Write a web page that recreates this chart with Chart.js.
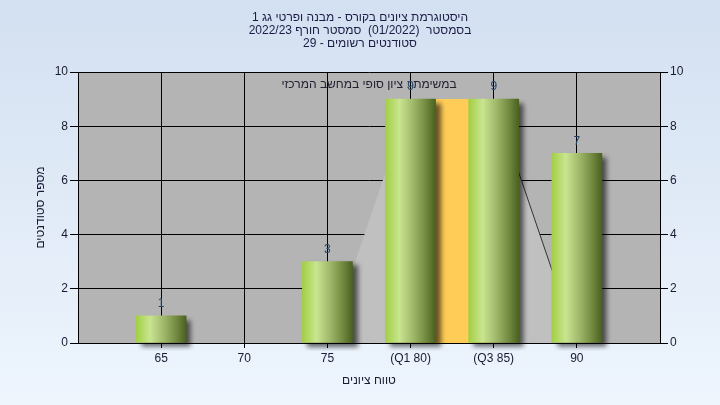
<!DOCTYPE html>
<html><head><meta charset="utf-8">
<script src="https://cdn.jsdelivr.net/npm/chart.js@4.4.0/dist/chart.umd.min.js"></script>
<style>html,body{margin:0;padding:0;overflow:hidden;background:#e6eef8;}</style>
</head><body>
<canvas id="c" width="720" height="405" dir="rtl"></canvas>
<script>
// ---- data ----
const titleLines = ['היסטוגרמת ציונים בקורס - מבנה ופרטי גג 1', 'בסמסטר  (01/2022)  סמסטר חורף 2022/23', 'סטודנטים רשומים - 29'];
const xTitle = 'טווח ציונים';
const yTitle = 'מספר סטודנטים';
const noteText = 'במשימת : ציון סופי במחשב המרכזי';
const grades = [65, 70, 75, 80, 85, 90];
const tickLabels = ['65', '70', '75', '(Q1 80)', '(Q3 85)', '90'];
const counts = [1, 0, 3, 9, 9, 7];
const iqrX = [80, 85];
const iqrY = [9, 9];
const spreadX = [75, 80, 85, 90];
const spreadY = [0, 9, 9, 0];
const xMin = 60, xMax = 95;
const yMin = 0, yMax = 10, yStep = 2;

const FONT = "'Liberation Sans', Arial, sans-serif";
const TXT = '#1a1a34';

const bgPlugin = {
  id: 'bg',
  beforeDraw(chart) {
    const {ctx, width, height, chartArea: a} = chart;
    ctx.save();
    const g = ctx.createLinearGradient(0, 0, 0, height);
    g.addColorStop(0, '#d3e0f1');
    g.addColorStop(1, '#eef5fd');
    ctx.fillStyle = g;
    ctx.fillRect(0, 0, width, height);
    ctx.fillStyle = '#b4b4b4';
    ctx.fillRect(a.left, a.top, a.right - a.left, a.bottom - a.top);
    ctx.restore();
  }
};

const shadowPlugin = {
  id: 'barShadow',
  beforeDatasetDraw(chart, args) {
    if (chart.data.datasets[args.index].type !== 'bar') return;
    const ctx = chart.ctx;
    ctx.save();
    ctx.shadowColor = 'rgba(0,0,0,0.6)';
    ctx.shadowBlur = 5;
    ctx.shadowOffsetX = 5;
    ctx.shadowOffsetY = 4;
  },
  afterDatasetDraw(chart, args) {
    if (chart.data.datasets[args.index].type !== 'bar') return;
    chart.ctx.restore();
  }
};

const labelPlugin = {
  id: 'labels',
  afterDatasetsDraw(chart) {
    const {ctx, scales: {x, y}, chartArea: a} = chart;
    ctx.save();
    ctx.font = '12px ' + FONT;
    ctx.textAlign = 'center';
    ctx.textBaseline = 'middle';
    ctx.fillStyle = '#222233';
    ctx.fillText(noteText, (a.left + a.right) / 2, a.top + 13);
    ctx.fillStyle = '#24466c';
    grades.forEach((g, i) => {
      if (counts[i] > 0) ctx.fillText(String(counts[i]), x.getPixelForValue(g), y.getPixelForValue(counts[i]) - 12);
    });
    ctx.restore();
  }
};

function barGradient(c) {
  const chart = c.chart;
  const xs = chart.scales && chart.scales.x;
  if (!xs || c.dataIndex === undefined) return '#a0c850';
  if (!counts[c.dataIndex]) return 'rgba(0,0,0,0)';
  const cx = xs.getPixelForValue(grades[c.dataIndex]);
  if (!isFinite(cx)) return '#a0c850';
  const g = chart.ctx.createLinearGradient(cx - 25, 0, cx + 25, 0);
  g.addColorStop(0, '#a2cf44');
  g.addColorStop(0.28, '#c9e590');
  g.addColorStop(0.55, '#9fb86a');
  g.addColorStop(0.8, '#738b40');
  g.addColorStop(1, '#4a6121');
  return g;
}

const chart = new Chart(document.getElementById('c'), {
  type: 'bar',
  data: {
    datasets: [
      {
        type: 'bar',
        data: grades.map((g, i) => ({x: g, y: counts[i]})),
        backgroundColor: barGradient,
        borderWidth: 0,
        barThickness: 50,
        order: 0,
        clip: 8
      },
      {
        type: 'line',
        data: iqrX.map((v, i) => ({x: v, y: iqrY[i]})),
        backgroundColor: '#ffcc57',
        borderWidth: 0,
        pointRadius: 0,
        fill: 'origin',
        order: 1
      },
      {
        type: 'line',
        data: spreadX.map((v, i) => ({x: v, y: spreadY[i]})),
        backgroundColor: '#c0c0c0',
        borderWidth: 1,
        borderColor: '#333333',
        segment: { borderColor: s => s.p0DataIndex === 2 ? '#333333' : 'rgba(0,0,0,0)' },
        pointRadius: 0,
        tension: 0,
        fill: 'origin',
        order: 2
      }
    ]
  },
  options: {
    responsive: false,
    animation: false,
    devicePixelRatio: 1,
    layout: {padding: 0},
    plugins: {
      legend: {display: false},
      tooltip: {enabled: false},
      title: {
        display: true,
        text: titleLines,
        color: '#1c1c44',
        font: {family: FONT, size: 12, weight: 'normal', lineHeight: 13 / 12},
        padding: {top: 11.5, bottom: 21.5}
      }
    },
    scales: {
      x: {
        type: 'linear',
        min: xMin, max: xMax,
        offset: false,
        afterBuildTicks(s) { s.ticks = grades.map(v => ({value: v})); },
        afterFit(s) { s.height = 62; },
        grid: {color: '#000', offset: false, tickLength: 5, lineWidth: 1},
        border: {color: '#000', z: 1},
        ticks: {
          autoSkip: false, maxRotation: 0, padding: 3,
          color: TXT, font: {family: FONT, size: 12},
          callback: v => { const i = grades.indexOf(v); return i >= 0 ? tickLabels[i] : ''; }
        },
        title: {display: true, text: xTitle, color: TXT, font: {family: FONT, size: 12}, padding: {top: 0, bottom: 17}}
      },
      y: {
        type: 'linear', position: 'left',
        min: yMin, max: yMax,
        afterFit(s) { s.width = 78; },
        grid: {color: '#000', tickLength: 8, lineWidth: 1},
        border: {color: '#000'},
        ticks: {stepSize: yStep, padding: 2, color: TXT, font: {family: FONT, size: 12}},
        title: {display: true, text: yTitle, color: TXT, font: {family: FONT, size: 12}, padding: {top: 33, bottom: 0}}
      },
      y2: {
        type: 'linear', position: 'right',
        min: yMin, max: yMax,
        afterFit(s) { s.width = 60; },
        grid: {color: '#000', tickLength: 8, drawOnChartArea: false},
        border: {color: '#000'},
        ticks: {stepSize: yStep, padding: 2, color: TXT, font: {family: FONT, size: 12}}
      }
    }
  },
  plugins: [bgPlugin, shadowPlugin, labelPlugin]
});
chart.update();
</script>
</body></html>
